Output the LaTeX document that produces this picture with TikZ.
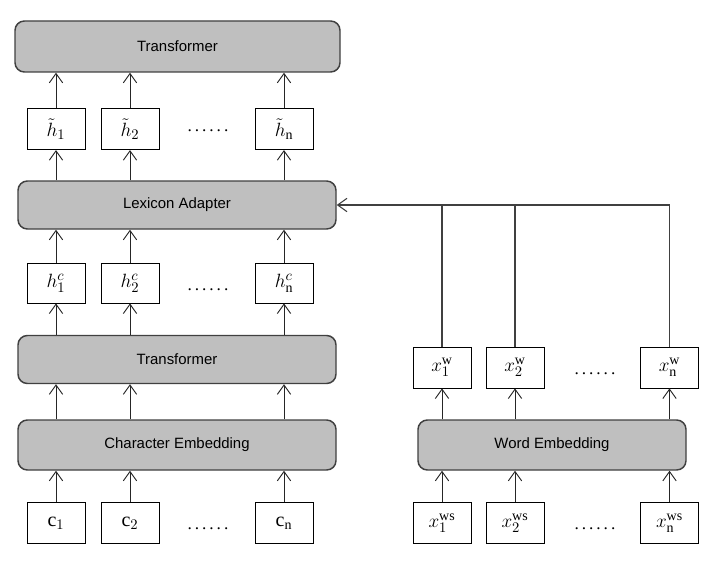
\documentclass[tikz,border=0pt]{standalone}
\usepackage{fontspec}
\setmainfont{Liberation Serif}
\setsansfont{Liberation Sans}
\usepackage{tikz}
\usetikzlibrary{positioning, arrows.meta}
\definecolor{layergray}{RGB}{191, 191, 191}
\definecolor{layerline}{RGB}{64,  64,  64}
\newcommand{\nndotrow}{.\hspace{2.2pt}.\hspace{2.2pt}.\hspace{2.2pt}.\hspace{2.2pt}.\hspace{2.2pt}.}
\tikzset{
  nnlayer/.style={
    rectangle, rounded corners=7pt, draw=layerline, line width=1.1pt,
    fill=layergray, font=\sffamily\fontsize{11.2}{13}\selectfont,
    minimum width=238.5pt, minimum height=36pt, inner sep=0pt
  },
  nnvec/.style={
    rectangle, draw=black, line width=0.6pt, fill=white,
    minimum width=43.5pt, minimum height=31pt, inner sep=0pt,
    font=\fontsize{15}{17}\selectfont
  },
  nndots/.style={
    font=\fontsize{13}{15}\selectfont, inner sep=0pt
  },
  nnarrow/.style={
    -{Straight Barb[length=7pt, width=10pt]}, line width=0.7pt, color=black!85
  },
}

\begin{document}
\begin{tikzpicture}[x=0.75pt, y=-0.75pt]
  \useasboundingbox (0,0) rectangle (712,570);

  % Layers
  \node[nnlayer, minimum width=243.75pt, minimum height=38.25pt] (trtop) at (177.5,46.5) {Transformer};
  \node[nnlayer] (lex) at (177,205) {Lexicon Adapter};
  \node[nnlayer] (trmid) at (177,359.5) {Transformer};
  \node[nnlayer, minimum height=37.5pt] (chemb) at (177,445) {Character Embedding};
  \node[nnlayer, minimum width=201pt, minimum height=37.5pt] (wdemb) at (552,445) {Word Embedding};

  % Character side vectors
  \node[nnvec] (ht1) at (56,129) {$\tilde{h}_{1}$};
  \node[nnvec] (ht2) at (130,129) {$\tilde{h}_{2}$};
  \node[nndots] (htd) at (208,131) {\nndotrow};
  \node[nnvec] (htn) at (284,129) {$\tilde{h}_{\mathrm{n}}$};

  \node[nnvec, minimum height=30pt] (hc1) at (56,283) {$h^{c}_{1}$};
  \node[nnvec, minimum height=30pt] (hc2) at (130,283) {$h^{c}_{2}$};
  \node[nndots] (hcd) at (208,290) {\nndotrow};
  \node[nnvec, minimum height=30pt] (hcn) at (284,283) {$h^{c}_{\mathrm{n}}$};

  \node[nnvec] (c1) at (56,523) {$\mathrm{c}_{1}$};
  \node[nnvec] (c2) at (130,523) {$\mathrm{c}_{2}$};
  \node[nndots] (cd) at (208,529) {\nndotrow};
  \node[nnvec] (cn) at (284,523) {$\mathrm{c}_{\mathrm{n}}$};

  % Word side vectors
  \node[nnvec, minimum height=30.75pt] (xw1) at (442,367.5) {$x^{\mathrm{w}}_{1}$};
  \node[nnvec, minimum height=30.75pt] (xw2) at (515,367.5) {$x^{\mathrm{w}}_{2}$};
  \node[nndots] (xwd) at (595,374) {\nndotrow};
  \node[nnvec, minimum height=30.75pt] (xwn) at (669.5,367.5) {$x^{\mathrm{w}}_{\mathrm{n}}$};

  \node[nnvec] (xs1) at (442,523) {$x^{\mathrm{ws}}_{1}$};
  \node[nnvec] (xs2) at (515,523) {$x^{\mathrm{ws}}_{2}$};
  \node[nndots] (xsd) at (595,529) {\nndotrow};
  \node[nnvec] (xsn) at (669.5,523) {$x^{\mathrm{ws}}_{\mathrm{n}}$};

  % Character side arrows
  \foreach \col in {1,2,n}{
    \draw[nnarrow] (c\col.north) -- (c\col.north |- chemb.south);
    \draw[nnarrow] (c\col.north |- chemb.north) -- (c\col.north |- trmid.south);
    \draw[nnarrow] (c\col.north |- trmid.north) -- (hc\col.south);
    \draw[nnarrow] (hc\col.north) -- (hc\col.north |- lex.south);
    \draw[nnarrow] (hc\col.north |- lex.north) -- (ht\col.south);
    \draw[nnarrow] (ht\col.north) -- (ht\col.north |- trtop.south);
  }

  % Word side arrows
  \foreach \col in {1,2,n}{
    \draw[nnarrow] (xs\col.north) -- (xs\col.north |- wdemb.south);
    \draw[nnarrow] (xs\col.north |- wdemb.north) -- (xw\col.south);
  }

  % Word vectors into the lexicon adapter
  \draw[line width=0.8pt, color=black!75] (xw1.north) -- (xw1.north |- lex.east);
  \draw[line width=0.8pt, color=black!75] (xw2.north) -- (xw2.north |- lex.east);
  \draw[nnarrow, line width=0.8pt, color=black!75] (xwn.north) |- (lex.east);
\end{tikzpicture}
\end{document}
